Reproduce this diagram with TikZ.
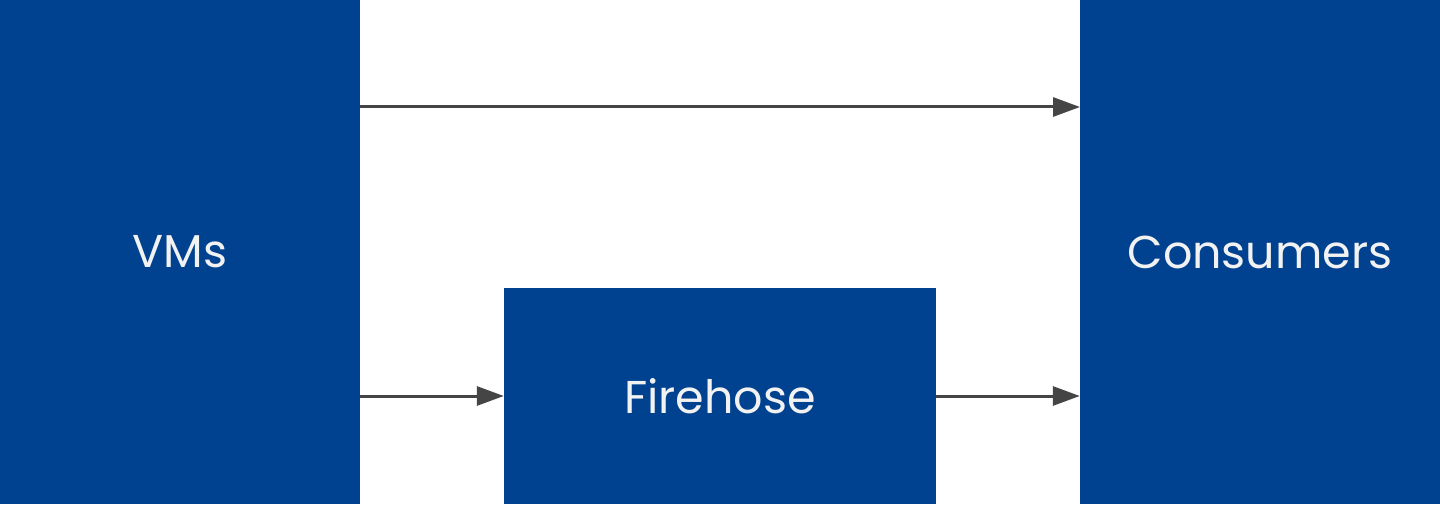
\documentclass[tikz,border=0pt]{standalone}
\usepackage{fontspec}
\setmainfont{Poppins}
\usetikzlibrary{arrows.meta}
\definecolor{boxblue}{HTML}{00428F}
\definecolor{arrowgray}{HTML}{454545}
\definecolor{txt}{HTML}{F2F2F2}
\begin{document}
\begin{tikzpicture}[x=1pt,y=1pt,
  blk/.style={fill=boxblue,draw=none,text=txt,font=\fontsize{46}{54}\selectfont,inner sep=0pt},
  conn/.style={draw=arrowgray,line width=3pt,-{Triangle[length=27pt,width=19pt]}}]
\useasboundingbox (0,0) rectangle (1440,504);
\fill[white] (0,0) rectangle (1440,504);
\node[blk,minimum width=360pt,minimum height=504pt] (vms) at (180,252) {VMs};
\node[blk,minimum width=360pt,minimum height=504pt] (cons) at (1260,252) {Consumers};
\node[blk,minimum width=432pt,minimum height=216pt] (fire) at (720,108) {Firehose};
\coordinate (a1) at (360,397);
\coordinate (b1) at (1080,397);
\draw[conn] (a1) -- (b1);
\draw[conn] (vms.east |- 0,108) -- (fire.west |- 0,108);
\draw[conn] (fire.east |- 0,108) -- (cons.west |- 0,108);
\end{tikzpicture}
\end{document}
